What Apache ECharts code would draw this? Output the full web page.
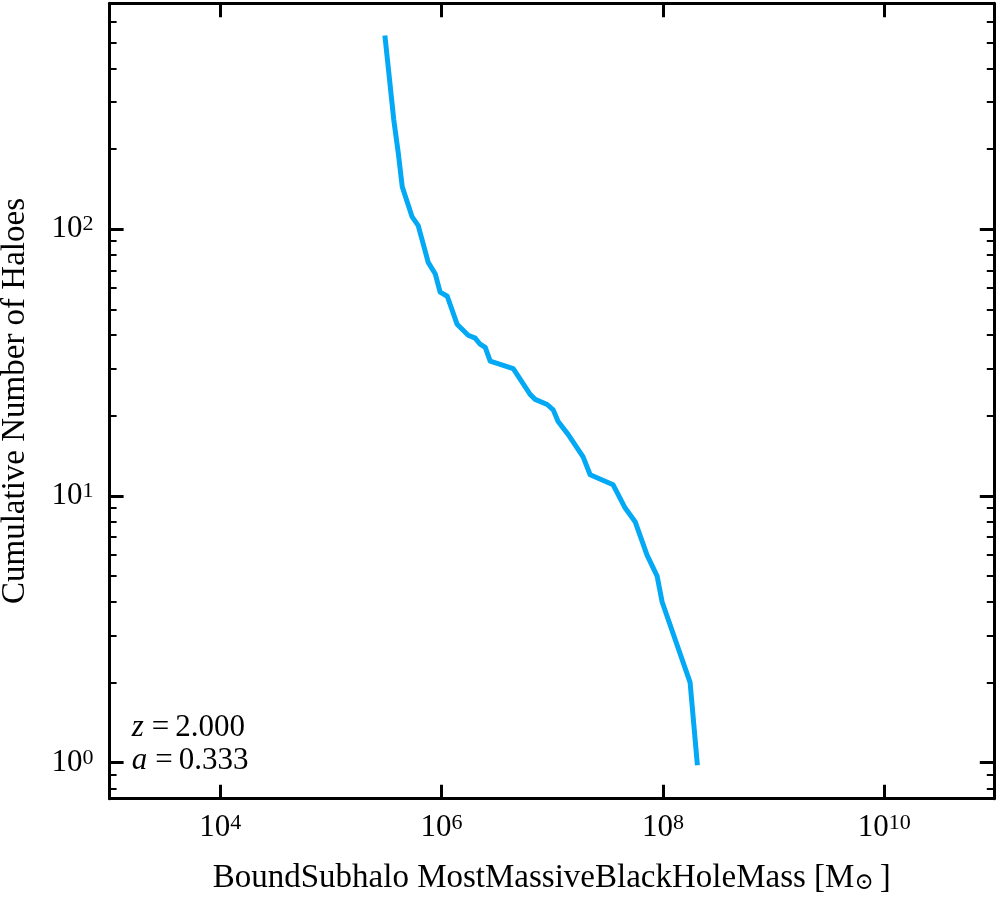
<!DOCTYPE html>
<html><head><meta charset="utf-8">
<script src="https://cdn.jsdelivr.net/npm/echarts@6/dist/echarts.min.js"></script>
<style>html,body{margin:0;padding:0;background:#fff}#c{width:996px;height:900px}</style>
</head><body><div id="c"></div>
<script>
// ---- data ----
const massValues = [3.09e5, 3.70e5, 4.06e5, 4.41e5, 5.42e5, 6.15e5, 7.57e5, 8.75e5, 9.70e5, 1.125e6,
  1.38e6, 1.74e6, 2.01e6, 2.23e6, 2.48e6, 2.75e6, 4.44e6, 6.31e6, 7.01e6, 9.0e6,
  1.02e7, 1.13e7, 1.39e7, 1.90e7, 2.20e7, 3.55e7, 4.56e7, 5.61e7, 7.19e7, 8.87e7,
  9.84e7, 1.76e8, 2.04e8];
const haloCounts = [520, 256, 193, 144, 111, 103, 75, 68, 58, 56,
  44, 40, 39, 37, 36, 32, 30, 24, 23, 22,
  21, 19, 17, 14, 12, 11, 9, 8, 6, 5,
  4, 2, 1];
const xTickExponents = [4, 6, 8, 10];
const yTickExponents = [0, 1, 2];
const yMinorMantissas = [2, 3, 4, 5, 6, 7, 8, 9];
const yMinorDecades = [-1, 0, 1, 2];
const xLogRange = [3, 10.99];
const yLogRange = [-0.135, 2.846];
const annotationLines = [['z', '2.000'], ['a', '0.333']];
const xAxisTitle = 'BoundSubhalo MostMassiveBlackHoleMass [M';
const yAxisTitle = 'Cumulative Number of Haloes';

// ---- build ----
const FONT = '"Liberation Serif", "Times New Roman", "DejaVu Serif", serif';
const seriesData = massValues.map((m, i) => [m, haloCounts[i]]);
const yMinorTicks = [];
yMinorDecades.forEach(d => yMinorMantissas.forEach(k => {
  const v = Math.log10(k) + d;
  if (v >= yLogRange[0] && v <= yLogRange[1]) yMinorTicks.push(v);
}));

const labelRich = {
  b: { fontFamily: FONT, fontSize: 31, lineHeight: 31, color: '#000' },
  s: { fontFamily: FONT, fontSize: 22, lineHeight: 22, verticalAlign: 'top', color: '#000' }
};
const powFmt = v => '{b|10}{s|' + Math.round(v) + '}';
const lineStyle = { color: '#000', width: 3 };

function valAxis(extra, range) {
  return Object.assign({
    type: 'value', min: range[0], max: range[1], gridIndex: 0,
    splitLine: { show: false },
    axisLine: { show: false, onZero: false, lineStyle: lineStyle },
    axisTick: { show: false },
    axisLabel: { show: false }
  }, extra);
}

const option = {
  animation: false,
  backgroundColor: '#fff',
  grid: { left: 109.6, right: 2.2, top: 3.3, bottom: 101.3, containLabel: false, outerBoundsMode: 'none' },
  xAxis: [
    { type: 'log', logBase: 10, min: Math.pow(10, xLogRange[0]), max: Math.pow(10, xLogRange[1]), show: false },
    valAxis({
      position: 'bottom',
      axisLine: { show: true, onZero: false, lineStyle: lineStyle },
      axisTick: { show: true, inside: true, length: 14, customValues: xTickExponents, lineStyle: { color: '#000', width: 3 } },
      axisLabel: { show: true, customValues: xTickExponents, margin: 14, formatter: powFmt, rich: labelRich },
      name: '{n|' + xAxisTitle + '}{sub|\u2299}{n|]}',
      nameLocation: 'middle', nameGap: 63,
      nameTextStyle: { rich: {
        n: { fontFamily: FONT, fontSize: 33, lineHeight: 33, color: '#000' },
        sub: { fontFamily: FONT, fontSize: 23, lineHeight: 23, verticalAlign: 'bottom', padding: [0, 6, 0, 0], color: '#000' }
      } }
    }, xLogRange),
    valAxis({
      position: 'top',
      axisLine: { show: true, onZero: false, lineStyle: lineStyle },
      axisTick: { show: true, inside: true, length: 14, customValues: xTickExponents, lineStyle: { color: '#000', width: 3 } }
    }, xLogRange)
  ],
  yAxis: [
    { type: 'log', logBase: 10, min: Math.pow(10, yLogRange[0]), max: Math.pow(10, yLogRange[1]), show: false },
    valAxis({
      position: 'left',
      axisLine: { show: true, onZero: false, lineStyle: lineStyle },
      axisTick: { show: true, inside: true, length: 14, customValues: yTickExponents, lineStyle: { color: '#000', width: 3 } },
      axisLabel: { show: true, customValues: yTickExponents, margin: 16, formatter: powFmt, rich: labelRich },
      name: yAxisTitle, nameLocation: 'middle', nameGap: 78,
      nameTextStyle: { fontFamily: FONT, fontSize: 33, color: '#000' }
    }, yLogRange),
    valAxis({
      position: 'left',
      axisTick: { show: true, inside: true, length: 7, customValues: yMinorTicks, lineStyle: { color: '#000', width: 2 } }
    }, yLogRange),
    valAxis({
      position: 'right',
      axisLine: { show: true, onZero: false, lineStyle: lineStyle },
      axisTick: { show: true, inside: true, length: 14, customValues: yTickExponents, lineStyle: { color: '#000', width: 3 } }
    }, yLogRange),
    valAxis({
      position: 'right',
      axisTick: { show: true, inside: true, length: 7, customValues: yMinorTicks, lineStyle: { color: '#000', width: 2 } }
    }, yLogRange)
  ],
  graphic: annotationLines.map((ln, i) => ({
    type: 'text', x: 131.7, y: 727.5 + i * 33.5,
    style: {
      text: '{i|' + ln[0] + '}{e|=}{t|' + ln[1] + '}',
      verticalAlign: 'middle', align: 'left',
      rich: {
        i: { fontFamily: FONT, fontStyle: 'italic', fontSize: 31, fill: '#000' },
        e: { fontFamily: FONT, fontSize: 31, padding: [0, 6, 0, 8], fill: '#000' },
        t: { fontFamily: FONT, fontSize: 31, fill: '#000' }
      }
    }
  })),
  series: [{
    type: 'line', xAxisIndex: 0, yAxisIndex: 0,
    data: seriesData, showSymbol: false, symbol: 'none', smooth: false,
    lineStyle: { color: '#03A9F4', width: 5, cap: 'square', join: 'round' }
  }]
};
const chart = echarts.init(document.getElementById('c'), null, { renderer: 'canvas' });
chart.setOption(option);
</script></body></html>
